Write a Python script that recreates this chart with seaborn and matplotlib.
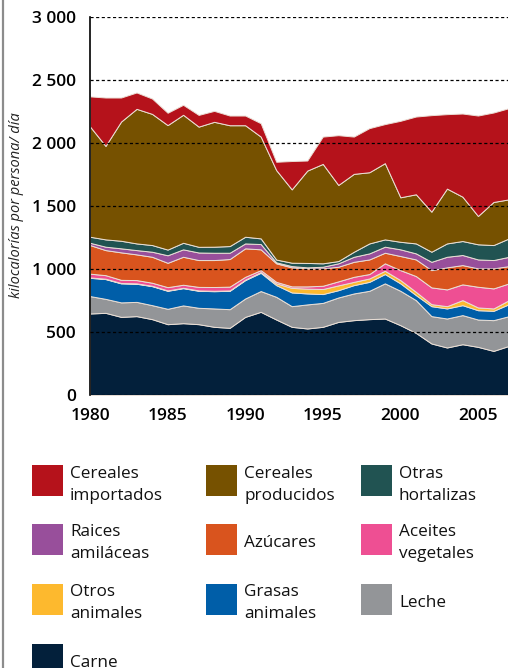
import numpy as np
import pandas as pd
import matplotlib
matplotlib.use("Agg")
import matplotlib.pyplot as plt
from matplotlib.patches import Rectangle
from matplotlib.lines import Line2D
import seaborn as sns

# data (kcal / persona / día)
years = list(range(1980, 2008))
carne = [647, 652, 620, 626, 602, 562, 570, 562, 541, 533, 620, 660, 599, 541,
         528, 541, 580, 594, 602, 607, 554, 493, 409, 377, 403, 382, 350, 390]
leche = [138, 111, 115, 113, 111, 122, 141, 130, 146, 148, 146, 165, 180, 164,
         191, 190, 194, 212, 225, 279, 273, 260, 217, 230, 231, 217, 244, 236]
grasas = [145, 157, 151, 144, 151, 143, 137, 135, 137, 146, 146, 145, 93, 109,
          87, 70, 58, 66, 71, 74, 59, 40, 79, 80, 79, 74, 74, 95]
otros_animales = [3, 3, 3, 3, 3, 3, 3, 3, 3, 3, 4, 6, 14, 36,
                  38, 40, 38, 26, 27, 26, 26, 26, 16, 18, 40, 22, 19, 32]
aceites = [30, 28, 25, 26, 24, 26, 24, 28, 30, 30, 22, 15, 12, 12,
           18, 26, 32, 40, 35, 59, 79, 125, 133, 133, 125, 164, 159, 133]
azucares = [227, 199, 218, 204, 206, 193, 222, 213, 214, 219, 226, 165, 147, 151,
            143, 138, 116, 119, 116, 84, 112, 132, 137, 175, 153, 146, 159, 137]
raices = [18, 27, 32, 34, 40, 60, 59, 60, 58, 50, 39, 42, 8, 10,
          8, 13, 27, 40, 48, 48, 53, 48, 66, 84, 80, 71, 66, 74]
hortalizas = [48, 58, 60, 53, 53, 45, 52, 45, 48, 53, 53, 45, 22, 27,
              35, 27, 18, 40, 79, 58, 60, 79, 80, 106, 111, 120, 119, 146]
cer_producidos = [875, 742, 946, 1068, 1041, 988, 1016, 954, 991, 959, 885, 808, 710, 582,
                  733, 789, 604, 618, 565, 605, 353, 390, 318, 435, 352, 225, 342, 310]
cer_importados = [239, 384, 191, 130, 122, 98, 79, 93, 87, 77, 77, 106, 66, 225,
                  80, 217, 395, 296, 350, 310, 607, 617, 766, 591, 660, 797, 710, 724]

series = ['Carne', 'Leche', 'Grasas\nanimales', 'Otros\nanimales', 'Aceites\nvegetales',
          'Azúcares', 'Raices\namiláceas', 'Otras\nhortalizas', 'Cereales\nproducidos',
          'Cereales\nimportados']
colors = ['#03203b', '#939598', '#005ea8', '#fdb92e', '#ee4f93',
          '#d9541e', '#984f9b', '#215352', '#765100', '#b5121b']

df = pd.DataFrame({'year': years, 'Carne': carne, 'Leche': leche,
                   'Grasas\nanimales': grasas, 'Otros\nanimales': otros_animales,
                   'Aceites\nvegetales': aceites, 'Azúcares': azucares,
                   'Raices\namiláceas': raices, 'Otras\nhortalizas': hortalizas,
                   'Cereales\nproducidos': cer_producidos,
                   'Cereales\nimportados': cer_importados})

sns.set_theme(style="white")
palette = sns.color_palette(colors)
plt.rcParams['font.family'] = ['Open Sans', 'DejaVu Sans']

W, H = 508, 668
fig = plt.figure(figsize=(W / 100, H / 100), dpi=100)
ax = fig.add_axes([90 / W, 1 - 395 / H, 419 / W, 378 / H])

ax.stackplot(df['year'], *[df[s] for s in series], colors=palette,
             edgecolor='#eadfd6', linewidth=0.7)

ax.set_xlim(1980, 2007)
ax.set_ylim(0, 3000)
ax.set_yticks(range(0, 3001, 500))
ax.set_yticklabels([f"{v:,}".replace(',', ' ') for v in range(0, 3001, 500)])
ax.set_xticks(range(1980, 2006, 5))
ax.set_xticks(years, minor=True)
ax.tick_params(axis='both', which='both', direction='out', length=5, width=1,
               color='black', labelsize=12.5, labelcolor='black', pad=4)
ax.tick_params(axis='y', length=6)
for lab in ax.get_xticklabels() + ax.get_yticklabels():
    lab.set_fontweight('semibold')

ax.set_axisbelow(False)
ax.yaxis.grid(True, color='black', linestyle=(0, (2.5, 2)), linewidth=0.9)
ax.xaxis.grid(False)
for side in ['top', 'right']:
    ax.spines[side].set_visible(False)
ax.spines['left'].set_color('black')
ax.spines['left'].set_linewidth(1.2)
ax.spines['bottom'].set_visible(False)

fig.text(17 / W, 1 - 205 / H, "kilocalorías por persona/ día", rotation=90,
         style='italic', ha='center', va='center', fontsize=10.5, color='#222222')

# left frame line
fig.add_artist(Line2D([2.5 / W, 2.5 / W], [0, 1], transform=fig.transFigure,
                      color='#8c8c8c', linewidth=1.6))

# legend, row by row
legend_order = ['Cereales\nimportados', 'Cereales\nproducidos', 'Otras\nhortalizas',
                'Raices\namiláceas', 'Azúcares', 'Aceites\nvegetales',
                'Otros\nanimales', 'Grasas\nanimales', 'Leche', 'Carne']
col_x = [32, 206, 361]
row_y = [465, 524, 584, 644]
sq = 31
for k, name in enumerate(legend_order):
    r, c = divmod(k, 3)
    x0, y0 = col_x[c], row_y[r]
    col = palette[series.index(name)]
    fig.add_artist(Rectangle((x0 / W, 1 - (y0 + sq) / H), sq / W, sq / H,
                             transform=fig.transFigure, facecolor=col, edgecolor='none'))
    lines = name.split('\n')
    if len(lines) == 2:
        bases = [y0 + 12.5, y0 + 34.5]
    else:
        bases = [y0 + 22.7]
    for txt, b in zip(lines, bases):
        fig.text((x0 + 38) / W, 1 - b / H, txt, ha='left', va='baseline',
                 fontsize=12.3, color='#111111')

fig.savefig("out.png", dpi=100)
